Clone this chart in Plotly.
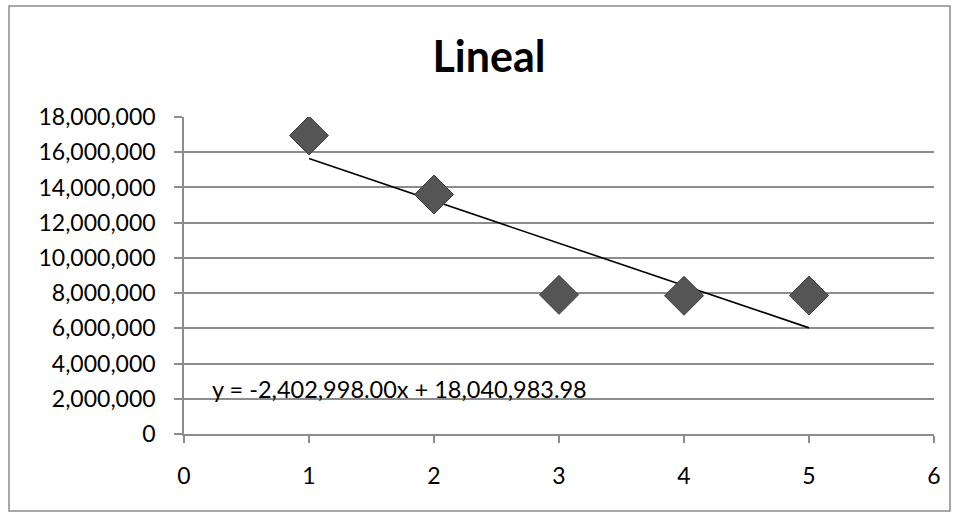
import plotly.graph_objects as go

# Observed values (period, amount)
periods = [1, 2, 3, 4, 5]
amounts = [16950000, 13600000, 7900000, 7850000, 7860000]

# Linear trend coefficients shown on the chart
slope = -2402998.00
intercept = 18040983.98
trend_x = [periods[0], periods[-1]]
trend_y = [slope * x + intercept for x in trend_x]

y_ticks = list(range(0, 18000001, 2000000))
x_ticks = [0, 1, 2, 3, 4, 5, 6]

W, H = 956, 517
L, R, T, B = 184, 22, 117, 83
pw, ph = W - L - R, H - T - B

font_family = "Lato, 'Open Sans', sans-serif"
grid = "#8c8c8c"

fig = go.Figure()
fig.add_trace(go.Scatter(
    x=trend_x, y=trend_y, mode="lines",
    line=dict(color="black", width=1.6), hoverinfo="skip", showlegend=False,
))
fig.add_trace(go.Scatter(
    x=periods, y=amounts, mode="markers",
    marker=dict(symbol="diamond", size=30, color="#555555",
                line=dict(color="#3f3f3f", width=1)),
    showlegend=False,
))

equation = f"y = {slope:,.2f}x + {intercept:,.2f}"
fig.add_annotation(
    x=0.21, y=2550000, xref="x", yref="y", text=equation, showarrow=False,
    xanchor="left", yanchor="middle",
    font=dict(family=font_family, size=23.5, color="black"),
)

# outer chart frame
fig.add_shape(
    type="rect", xref="paper", yref="paper",
    x0=(9 - L) / pw, x1=(950 - L) / pw,
    y0=(H - B - 511) / ph, y1=(H - B - 6) / ph,
    line=dict(color="#8c8c8c", width=1.5), fillcolor="rgba(0,0,0,0)", layer="below",
)

fig.update_layout(
    width=W, height=H,
    margin=dict(l=L, r=R, t=T, b=B),
    paper_bgcolor="white", plot_bgcolor="white",
    title=dict(text="<b>Lineal</b>", x=(489 - L) / pw, xref="paper",
               xanchor="center", y=1 - 57 / H, yanchor="middle",
               font=dict(family=font_family, size=43, color="black")),
    font=dict(family=font_family, size=23, color="black"),
    xaxis=dict(range=[0, 6], tickvals=x_ticks, showgrid=False, zeroline=False,
               showline=True, linecolor=grid, linewidth=1.5,
               ticks="outside", ticklen=7, tickcolor=grid, tickwidth=1.5,
               ticklabelstandoff=14),
    yaxis=dict(range=[0, 18000000], tickvals=y_ticks, tickformat=",",
               showgrid=True, gridcolor=grid, gridwidth=1.5, zeroline=False,
               showline=True, linecolor=grid, linewidth=1.5,
               ticks="outside", ticklen=8, tickcolor=grid, tickwidth=1.5,
               ticklabelstandoff=14),
)

fig.write_html("out.html")
